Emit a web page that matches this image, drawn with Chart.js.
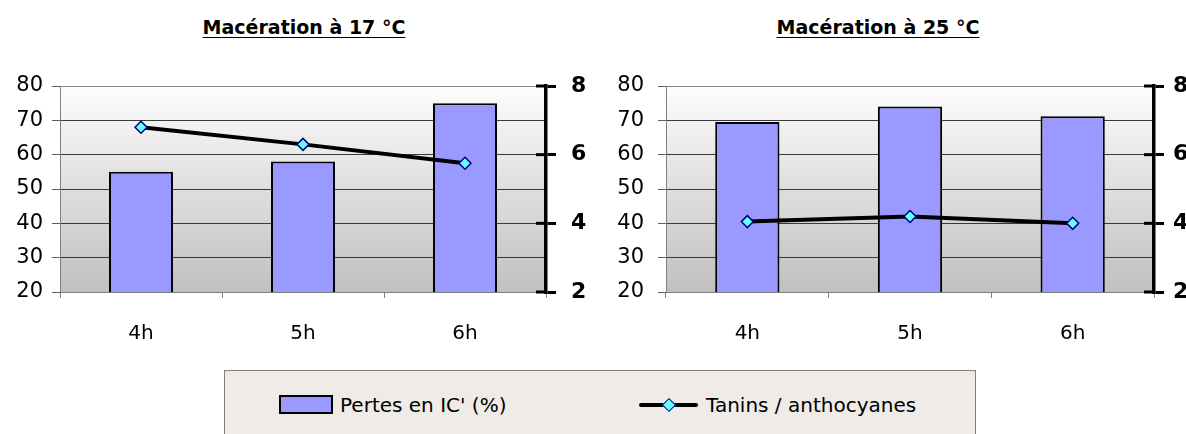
<!DOCTYPE html>
<html>
<head>
<meta charset="utf-8">
<script src="https://cdn.jsdelivr.net/npm/chart.js@4.4.1/dist/chart.umd.min.js"></script>
<style>
  body { margin: 0; background: #fff; width: 1186px; height: 434px; overflow: hidden; position: relative;
         font-family: 'Comic Sans MS', 'DejaVu Sans', sans-serif; }
  canvas { position: absolute; top: 0; }
  .title { position: absolute; top: 16px; font-weight: bold; font-size: 19px; text-decoration: underline;
           text-underline-offset: 3px; transform: translateX(-50%); white-space: nowrap; }
  #legend { position: absolute; left: 224px; top: 370px; width: 752px; height: 80px; background: #efebe6;
            border: 1px solid #808080; box-sizing: border-box; }
  .lg { position: absolute; top: 22px; font-size: 20px; line-height: 24px; white-space: nowrap; }
  .sw { position: absolute; }
</style>
</head>
<body>
<div class="title" style="left:304px">Macération à 17 °C</div>
<div class="title" style="left:878px">Macération à 25 °C</div>
<canvas id="c17" width="600" height="350" style="left:0"></canvas>
<canvas id="c25" width="586" height="350" style="left:600px"></canvas>
<div id="legend">
  <div class="sw" style="left:54px;top:24px;width:54px;height:19px;background:#9999ff;border:2px solid #000;box-sizing:border-box"></div>
  <div class="lg" style="left:115px">Pertes en IC' (%)</div>
  <div class="sw" style="left:414px;top:32px;width:59px;height:4px;background:#000;border-radius:2px"></div>
  <div class="sw" style="left:439px;top:29px;width:8px;height:8px;background:#66ffff;border:1.5px solid #000080;transform:rotate(45deg)"></div>
  <div class="lg" style="left:481px">Tanins / anthocyanes</div>
</div>
<script>
var FONT = "'Comic Sans MS', 'DejaVu Sans', sans-serif";

var categories = ['4h', '5h', '6h'];
var pertes17 = [55, 58, 75];
var tanins17 = [6.8, 6.3, 5.75];
var pertes25 = [69.5, 74, 71.2];
var tanins25 = [4.05, 4.2, 4.0];

var Y_MIN = 20, Y_MAX = 80, Y_STEP = 10;
var Y1_MIN = 2, Y1_MAX = 8, Y1_STEP = 2;

var plotBg = {
  id: 'plotBg',
  beforeDraw: function (chart) {
    var a = chart.chartArea, c = chart.ctx;
    var g = c.createLinearGradient(0, a.top, 0, a.bottom);
    g.addColorStop(0, '#fdfdfd');
    g.addColorStop(1, '#c0c0c0');
    c.save();
    c.fillStyle = g;
    c.fillRect(a.left, a.top, a.right - a.left, a.bottom - a.top);
    c.restore();
  }
};

// the bold right axis ticks cross the axis line on both sides
var innerTicks = {
  id: 'innerTicks',
  afterDraw: function (chart) {
    var s = chart.scales.y1, c = chart.ctx, x = chart.chartArea.right;
    c.save();
    c.strokeStyle = '#000';
    c.lineWidth = 3;
    s.ticks.forEach(function (t) {
      var y = s.getPixelForValue(t.value);
      c.beginPath();
      c.moveTo(x - 10, y);
      c.lineTo(x, y);
      c.stroke();
    });
    c.restore();
  }
};

function makeChart(id, bars, line, leftW, rightW, leftPad, rightPad) {
  return new Chart(document.getElementById(id), {
    data: {
      labels: categories,
      datasets: [
        {
          type: 'line', label: 'Tanins / anthocyanes', data: line, yAxisID: 'y1', order: 0,
          borderColor: '#000', borderWidth: 4, tension: 0,
          pointStyle: 'rectRot', pointRadius: 6, pointBackgroundColor: '#66ffff',
          pointBorderColor: '#000080', pointBorderWidth: 1.5
        },
        {
          type: 'bar', label: "Pertes en IC' (%)", data: bars, yAxisID: 'y', order: 1,
          backgroundColor: '#9999ff', borderColor: '#000', borderWidth: 2,
          categoryPercentage: 1, barPercentage: 0.395
        }
      ]
    },
    options: {
      responsive: false,
      animation: false,
      layout: { padding: { top: 86, bottom: 0, left: 0, right: 0 } },
      plugins: { legend: { display: false }, tooltip: { enabled: false }, title: { display: false } },
      scales: {
        x: {
          afterFit: function (s) { s.height = 58; },
          grid: { drawOnChartArea: false, offset: true, color: '#808080', tickLength: 6 },
          border: { color: '#808080' },
          ticks: { font: { family: FONT, size: 20 }, color: '#000', padding: 24 }
        },
        y: {
          position: 'left', min: Y_MIN, max: Y_MAX,
          afterFit: function (s) { s.width = leftW; },
          ticks: { stepSize: Y_STEP, font: { family: 'DejaVu Sans', size: 21 }, color: '#000', padding: leftPad },
          grid: {
            color: function (ctx) { return ctx.tick && ctx.tick.value === Y_MAX ? '#8a8a8a' : '#3a3a3a'; },
            tickColor: '#606060', tickLength: 8, lineWidth: 1
          },
          border: { color: '#808080' }
        },
        y1: {
          position: 'right', min: Y1_MIN, max: Y1_MAX,
          afterFit: function (s) { s.width = rightW; },
          ticks: { stepSize: Y1_STEP, font: { family: FONT, size: 22, weight: 'bold' }, color: '#000', padding: rightPad },
          grid: { drawOnChartArea: false, color: '#000', lineWidth: 3, tickLength: 10 },
          border: { color: '#000', width: 3.5 }
        }
      }
    },
    plugins: [plotBg, innerTicks]
  });
}

makeChart('c17', pertes17, tanins17, 60, 54, 9, 15);
makeChart('c25', pertes25, tanins25, 66, 32, 14, 9);
</script>
</body>
</html>
